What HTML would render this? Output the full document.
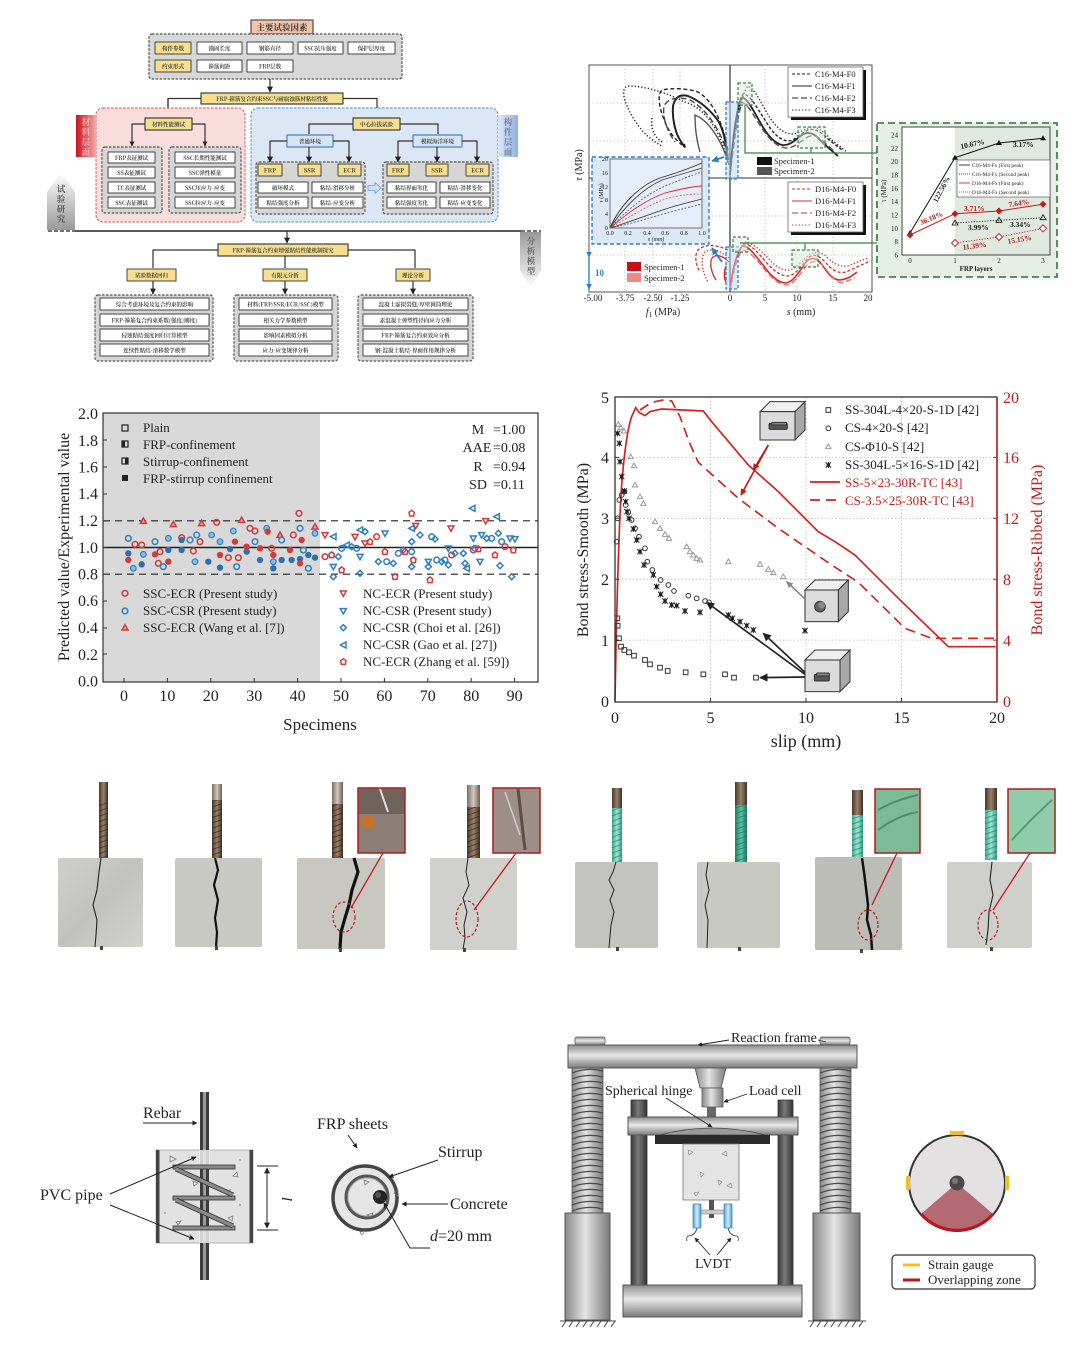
<!DOCTYPE html>
<html><head><meta charset="utf-8">
<style>html,body{margin:0;padding:0;background:#fff;width:1078px;height:1350px;overflow:hidden}svg{display:block}</style>
</head><body>
<svg width="1078" height="1350" viewBox="0 0 1078 1350" xmlns="http://www.w3.org/2000/svg">
<defs>
<marker id="ah" viewBox="0 0 10 10" refX="9" refY="5" markerWidth="5" markerHeight="5" orient="auto"><path d="M0,0 L10,5 L0,10 z" fill="#222"/></marker>
<marker id="ahr" viewBox="0 0 10 10" refX="9" refY="5" markerWidth="4" markerHeight="4" orient="auto"><path d="M0,0 L10,5 L0,10 z" fill="#c41a1a"/></marker>
<marker id="ahg" viewBox="0 0 10 10" refX="9" refY="5" markerWidth="4" markerHeight="4" orient="auto"><path d="M0,0 L10,5 L0,10 z" fill="#888"/></marker>
<marker id="ahb" viewBox="0 0 10 10" refX="9" refY="5" markerWidth="4" markerHeight="4" orient="auto"><path d="M0,0 L10,5 L0,10 z" fill="#2a7fd0"/></marker>
<marker id="ahs" viewBox="0 0 10 10" refX="9" refY="5" markerWidth="6" markerHeight="6" orient="auto-start-reverse"><path d="M0,0 L10,5 L0,10 z" fill="#222"/></marker>
<linearGradient id="redTag" x1="0" x2="1"><stop offset="0" stop-color="#c8141e"/><stop offset="1" stop-color="#f3a9a9"/></linearGradient>
<linearGradient id="blueTag" x1="0" x2="1"><stop offset="0" stop-color="#dfe9f7"/><stop offset="1" stop-color="#8eb0e0"/></linearGradient>
<linearGradient id="grayUp" x1="0" y1="0" x2="0" y2="1"><stop offset="0" stop-color="#fff"/><stop offset="1" stop-color="#9a9a9a"/></linearGradient>
<linearGradient id="grayDn" x1="0" y1="0" x2="0" y2="1"><stop offset="0" stop-color="#9a9a9a"/><stop offset="1" stop-color="#fff"/></linearGradient>
<linearGradient id="metV" x1="0" y1="0" x2="0" y2="1"><stop offset="0" stop-color="#8c8c8c"/><stop offset=".45" stop-color="#e8e8e8"/><stop offset="1" stop-color="#7a7a7a"/></linearGradient>
<linearGradient id="metH" x1="0" y1="0" x2="1" y2="0"><stop offset="0" stop-color="#8a8a8a"/><stop offset=".45" stop-color="#e4e4e4"/><stop offset="1" stop-color="#7a7a7a"/></linearGradient>
<linearGradient id="darkH" x1="0" y1="0" x2="1" y2="0"><stop offset="0" stop-color="#3a3a3a"/><stop offset=".45" stop-color="#7a7a7a"/><stop offset="1" stop-color="#333"/></linearGradient>
<linearGradient id="blueH" x1="0" y1="0" x2="1" y2="0"><stop offset="0" stop-color="#4aa6dc"/><stop offset=".5" stop-color="#d2ecfa"/><stop offset="1" stop-color="#4aa0d8"/></linearGradient>
<linearGradient id="rebarBr" x1="0" y1="0" x2="1" y2="0"><stop offset="0" stop-color="#4a3a2c"/><stop offset=".5" stop-color="#9a8068"/><stop offset="1" stop-color="#3e3024"/></linearGradient>
<linearGradient id="rebarLt" x1="0" y1="0" x2="1" y2="0"><stop offset="0" stop-color="#7a6e62"/><stop offset=".5" stop-color="#d4c8bc"/><stop offset="1" stop-color="#6a5e52"/></linearGradient>
<linearGradient id="teal" x1="0" y1="0" x2="1" y2="0"><stop offset="0" stop-color="#3aa890"/><stop offset=".5" stop-color="#9ee6d2"/><stop offset="1" stop-color="#2e9a82"/></linearGradient>
<linearGradient id="tealD" x1="0" y1="0" x2="1" y2="0"><stop offset="0" stop-color="#1f7e66"/><stop offset=".5" stop-color="#5cc4a8"/><stop offset="1" stop-color="#1c7460"/></linearGradient>
<linearGradient id="conc" x1="0" y1="0" x2="1" y2="1"><stop offset="0" stop-color="#cfcfcb"/><stop offset=".5" stop-color="#c2c2be"/><stop offset="1" stop-color="#d2d2ce"/></linearGradient>
<pattern id="coil" x="572" y="1068" width="31" height="6" patternUnits="userSpaceOnUse"><rect width="31" height="6" fill="url(#metH)"/><path d="M0,5 Q15,-1 31,3" stroke="#4a4a4a" stroke-width="1.3" fill="none"/></pattern>
<pattern id="coil2" x="820" y="1068" width="31" height="6" patternUnits="userSpaceOnUse"><rect width="31" height="6" fill="url(#metH)"/><path d="M0,5 Q15,-1 31,3" stroke="#4a4a4a" stroke-width="1.3" fill="none"/></pattern>
<pattern id="rib" width="12" height="5" patternUnits="userSpaceOnUse" patternTransform="rotate(-20)"><rect width="12" height="5" fill="none"/><line x1="0" y1="1" x2="12" y2="1" stroke="#2a2018" stroke-width="1" opacity=".6"/></pattern>
<pattern id="ribT" width="12" height="5" patternUnits="userSpaceOnUse" patternTransform="rotate(-20)"><line x1="0" y1="1" x2="12" y2="1" stroke="#1e6e5a" stroke-width="1" opacity=".6"/></pattern>
<!-- scatter markers (zoom units) -->
<circle id="rc" r="8.5" fill="none" stroke="#d43a3a" stroke-width="4.5"/>
<circle id="rf" r="9.5" fill="#d43a3a"/>
<circle id="bc" r="8.5" fill="none" stroke="#2f80c2" stroke-width="4.5"/>
<circle id="bf" r="9.5" fill="#2f6fb0"/>
<circle id="bh" r="8.5" fill="#8fb9df" stroke="#2f80c2" stroke-width="3.5"/>
<path id="rt" d="M0,-9 L9,7 L-9,7 Z" fill="#e9a0a0" stroke="#d43a3a" stroke-width="4.5"/>
<path id="rdt" d="M-9,-7 L9,-7 L0,9 Z" fill="none" stroke="#d43a3a" stroke-width="4.5"/>
<path id="bdt" d="M-9,-7 L9,-7 L0,9 Z" fill="none" stroke="#2f80c2" stroke-width="4.5"/>
<path id="bd" d="M0,-9 L9,0 L0,9 L-9,0 Z" fill="none" stroke="#2f80c2" stroke-width="4.5"/>
<path id="bl" d="M-9,0 L8,-9 L8,9 Z" fill="none" stroke="#2f80c2" stroke-width="4.5"/>
<path id="rh" d="M0,-9 L8,-3 L6,8 L-6,8 L-8,-3 Z" fill="none" stroke="#d43a3a" stroke-width="4.5"/>
<!-- slip markers -->
<rect id="sq" x="-7" y="-7" width="14" height="14" fill="none" stroke="#333" stroke-width="3"/>
<circle id="ci" r="7" fill="none" stroke="#333" stroke-width="3"/>
<path id="tr" d="M0,-8 L8,6 L-8,6 Z" fill="none" stroke="#999" stroke-width="3"/>
<g id="st"><rect x="-5" y="-5" width="10" height="10" fill="#222"/><path d="M-8,-8 L8,8 M-8,8 L8,-8 M0,-9 L0,9" stroke="#222" stroke-width="3"/></g>
</defs>

<rect width="1078" height="1350" fill="#fff"/>

<!-- ================= FLOWCHART ================= -->
<g font-family="'Noto Serif CJK SC','Noto Sans CJK SC',serif" text-anchor="middle" fill="#444" font-size="5.5" font-weight="bold" stroke-linejoin="round">
<rect x="251" y="20" width="62" height="14" fill="#f4c4aa" stroke="#555" stroke-width="1.3"/>
<text x="282" y="30.5" font-size="8.5" fill="#333">主要试验因素</text>
<rect x="149" y="34" width="253" height="45" rx="3" fill="#d8d8d8" stroke="#555" stroke-dasharray="2.5,1.5" stroke-width="1.3"/>
<g stroke="#444" stroke-width="1">
<rect x="155" y="42" width="36" height="12" fill="#f7df8e"/>
<rect x="197" y="42" width="45" height="12" fill="#fff"/>
<rect x="247" y="42" width="46" height="12" fill="#fff"/>
<rect x="298" y="42" width="45" height="12" fill="#fff"/>
<rect x="348" y="42" width="47" height="12" fill="#fff"/>
<rect x="155" y="60" width="36" height="12" fill="#f7df8e"/>
<rect x="197" y="60" width="45" height="12" fill="#fff"/>
<rect x="247" y="60" width="46" height="12" fill="#fff"/>
</g>
<text x="173" y="50.5">构件参数</text><text x="219.5" y="50.5">锚固长度</text><text x="270" y="50.5">钢筋直径</text><text x="320.5" y="50.5">SSC抗压强度</text><text x="371.5" y="50.5">保护层厚度</text>
<text x="173" y="68.5">约束形式</text><text x="219.5" y="68.5">箍筋间距</text><text x="270" y="68.5">FRP层数</text>
<line x1="270" y1="79" x2="270" y2="92" stroke="#333" stroke-width="1.2" marker-end="url(#ah)"/>
<rect x="201" y="93" width="142" height="11" fill="#f7df8e" stroke="#444" stroke-width="1.2"/>
<text x="272" y="100.8">FRP-箍筋复合约束SSC与耐腐蚀筋材粘结性能</text>
<path d="M201,98.5 H168 V117 M343,98.5 H377 V117" fill="none" stroke="#333" stroke-width="1.2" marker-end="url(#ah)"/>
<path d="M168,98.5 V117" stroke="#333" stroke-width="1.2" marker-end="url(#ah)"/>
<rect x="96" y="108" width="149" height="114" rx="7" fill="#f9dcdc" stroke="#e07070" stroke-dasharray="2.5,1.5" stroke-width="1.2"/>
<rect x="251" y="108" width="247" height="114" rx="7" fill="#dce7f5" stroke="#6a9fd8" stroke-dasharray="2.5,1.5" stroke-width="1.2"/>
<rect x="76" y="115" width="20" height="42" fill="url(#redTag)"/>
<g font-size="8.5" fill="#f4b4b4"><text x="86" y="125">材</text><text x="86" y="135">料</text><text x="86" y="145">层</text><text x="86" y="155">面</text></g>
<rect x="498" y="115" width="20" height="42" fill="url(#blueTag)"/>
<g font-size="8.5" fill="#6b7f9e"><text x="508" y="125">构</text><text x="508" y="135">件</text><text x="508" y="145">层</text><text x="508" y="155">面</text></g>
<rect x="145" y="118" width="47" height="12" fill="#f7df8e" stroke="#444" stroke-width="1.2"/>
<text x="168.5" y="126.5">材料性能测试</text>
<path d="M145,124 H132 V146 M192,124 H205 V146" fill="none" stroke="#333" stroke-width="1.2"/>
<path d="M132,140 V146" stroke="#333" marker-end="url(#ah)"/><path d="M205,140 V146" stroke="#333" marker-end="url(#ah)"/>
<rect x="102" y="147" width="60" height="66" rx="3" fill="#d6d6d6" stroke="#555" stroke-dasharray="2.5,1.5" stroke-width="1.2"/>
<rect x="169" y="147" width="72" height="66" rx="3" fill="#d6d6d6" stroke="#555" stroke-dasharray="2.5,1.5" stroke-width="1.2"/>
<g stroke="#444" stroke-width="1" fill="#fff">
<rect x="108" y="152" width="47" height="11"/><rect x="108" y="167" width="47" height="11"/><rect x="108" y="182" width="47" height="11"/><rect x="108" y="197" width="47" height="11"/>
<rect x="175" y="152" width="60" height="11"/><rect x="175" y="167" width="60" height="11"/><rect x="175" y="182" width="60" height="11"/><rect x="175" y="197" width="60" height="11"/>
</g>
<text x="131.5" y="159.8">FRP表征测试</text><text x="131.5" y="174.8">SS表征测试</text><text x="131.5" y="189.8">TC表征测试</text><text x="131.5" y="204.8">SSC表征测试</text>
<text x="205" y="159.8">SSC长期性能测试</text><text x="205" y="174.8">SSC弹性模量</text><text x="205" y="189.8">SSC压应力-应变</text><text x="205" y="204.8">SSC拉应力-应变</text>
<rect x="353" y="118" width="47" height="12" fill="#f7df8e" stroke="#444" stroke-width="1.2"/>
<text x="376.5" y="126.5">中心拉拔试验</text>
<path d="M353,124 H309 V134 M400,124 H438 V134" fill="none" stroke="#333" stroke-width="1.2"/>
<rect x="287" y="135" width="46" height="12" fill="#d6e4f5" stroke="#5080c0" stroke-width="1.2"/>
<text x="310" y="143.5">普通环境</text>
<rect x="413" y="135" width="49" height="12" fill="#d6e4f5" stroke="#5080c0" stroke-width="1.2"/>
<text x="437.5" y="143.5">模拟海洋环境</text>
<path d="M287,141 H270 V162 M333,141 H349 V162 M413,141 H398 V162 M462,141 H477 V162" fill="none" stroke="#333" stroke-width="1.2"/>
<g stroke="#333" stroke-width="1.2"><path d="M270,156 V162" marker-end="url(#ah)"/><path d="M309,147 V162" marker-end="url(#ah)"/><path d="M349,156 V162" marker-end="url(#ah)"/><path d="M398,156 V162" marker-end="url(#ah)"/><path d="M437,147 V162" marker-end="url(#ah)"/><path d="M477,156 V162" marker-end="url(#ah)"/></g>
<rect x="256" y="162" width="109" height="52" rx="3" fill="#d6d6d6" stroke="#555" stroke-dasharray="2.5,1.5" stroke-width="1.2"/>
<rect x="383" y="162" width="110" height="52" rx="3" fill="#d6d6d6" stroke="#555" stroke-dasharray="2.5,1.5" stroke-width="1.2"/>
<g stroke="#444" stroke-width="1">
<rect x="258" y="164" width="24" height="12" fill="#f7df8e"/><rect x="298" y="164" width="23" height="12" fill="#f7df8e"/><rect x="338" y="164" width="23" height="12" fill="#f7df8e"/>
<rect x="387" y="164" width="22" height="12" fill="#f7df8e"/><rect x="426" y="164" width="22" height="12" fill="#f7df8e"/><rect x="466" y="164" width="23" height="12" fill="#f7df8e"/>
<rect x="258" y="182" width="50" height="11" fill="#fff"/><rect x="312" y="182" width="51" height="11" fill="#fff"/><rect x="258" y="197" width="50" height="11" fill="#fff"/><rect x="312" y="197" width="51" height="11" fill="#fff"/>
<rect x="387" y="182" width="49" height="11" fill="#fff"/><rect x="440" y="182" width="50" height="11" fill="#fff"/><rect x="387" y="197" width="49" height="11" fill="#fff"/><rect x="440" y="197" width="50" height="11" fill="#fff"/>
</g>
<g font-size="6"><text x="270" y="172.5">FRP</text><text x="309.5" y="172.5">SSR</text><text x="349.5" y="172.5">ECR</text><text x="398" y="172.5">FRP</text><text x="437" y="172.5">SSR</text><text x="477.5" y="172.5">ECR</text></g>
<text x="283" y="189.8">破坏模式</text><text x="337.5" y="189.8">粘结-滑移分析</text><text x="283" y="204.8">粘结强度分析</text><text x="337.5" y="204.8">粘结-应变分析</text>
<text x="411.5" y="189.8">粘结界面劣化</text><text x="465" y="189.8">粘结-滑移变化</text><text x="411.5" y="204.8">粘结强度劣化</text><text x="465" y="204.8">粘结-应变变化</text>
<path d="M368,185.5 H375 V182.5 L381,188 L375,193.5 V190.5 H368 Z" fill="#cfe0f5" stroke="#6a9fd8" stroke-width="0.8"/>
<!-- divider -->
<line x1="75" y1="231" x2="521" y2="231" stroke="#222" stroke-width="1.6"/>
<line x1="48" y1="231" x2="75" y2="231" stroke="#444" stroke-width="1.6" stroke-dasharray="4,2"/>
<line x1="521" y1="231" x2="541" y2="231" stroke="#444" stroke-width="1.6" stroke-dasharray="4,2"/>
<polygon points="47,230 75,230 75,192 61,172 47,192" fill="url(#grayUp)"/>
<g font-size="8.5" fill="#555"><text x="61" y="192">试</text><text x="61" y="202">验</text><text x="61" y="212">研</text><text x="61" y="222">究</text></g>
<polygon points="520,232 541,232 541,270 531,288 520,270" fill="url(#grayDn)"/>
<g font-size="8.5" fill="#666"><text x="531" y="244">分</text><text x="531" y="254">析</text><text x="531" y="264">模</text><text x="531" y="274">型</text></g>
<path d="M287,231 V243" stroke="#333" stroke-width="1.2" marker-end="url(#ah)"/>
<rect x="218" y="244" width="130" height="12" fill="#f7df8e" stroke="#444" stroke-width="1.2"/>
<text x="283" y="252.3">FRP-箍筋复合约束增强粘结性能机制探究</text>
<path d="M218,250 H153 V268 M348,250 H415 V268 M285,256 V268" fill="none" stroke="#333" stroke-width="1.2"/>
<g stroke="#444" stroke-width="1">
<rect x="127" y="269" width="49" height="12" fill="#f7df8e"/><rect x="263" y="269" width="44" height="12" fill="#f7df8e"/><rect x="396" y="269" width="34" height="12" fill="#f7df8e"/>
</g>
<text x="151.5" y="277.5">试验数据回归</text><text x="285" y="277.5">有限元分析</text><text x="413" y="277.5">理论分析</text>
<g stroke="#333" stroke-width="1.2"><path d="M153,281 V294" marker-end="url(#ah)"/><path d="M285,281 V294" marker-end="url(#ah)"/><path d="M413,281 V294" marker-end="url(#ah)"/></g>
<rect x="95" y="295" width="118" height="66" rx="3" fill="#d6d6d6" stroke="#555" stroke-dasharray="2.5,1.5" stroke-width="1.2"/>
<rect x="234" y="295" width="104" height="66" rx="3" fill="#d6d6d6" stroke="#555" stroke-dasharray="2.5,1.5" stroke-width="1.2"/>
<rect x="358" y="295" width="115" height="66" rx="3" fill="#d6d6d6" stroke="#555" stroke-dasharray="2.5,1.5" stroke-width="1.2"/>
<g stroke="#444" stroke-width="1" fill="#fff">
<rect x="100" y="298" width="109" height="12"/><rect x="100" y="314" width="109" height="12"/><rect x="100" y="329" width="109" height="12"/><rect x="100" y="344" width="109" height="12"/>
<rect x="239" y="298" width="93" height="12"/><rect x="239" y="314" width="93" height="12"/><rect x="239" y="329" width="93" height="12"/><rect x="239" y="344" width="93" height="12"/>
<rect x="363" y="298" width="105" height="12"/><rect x="363" y="314" width="105" height="12"/><rect x="363" y="329" width="105" height="12"/><rect x="363" y="344" width="105" height="12"/>
</g>
<text x="154.5" y="306.3">综合考虑环境及复合约束的影响</text><text x="154.5" y="322.3">FRP-箍筋复合约束系数(强度/刚度)</text><text x="154.5" y="337.3">侵蚀粘结强度回归计算模型</text><text x="154.5" y="352.3">连续性粘结-滑移数学模型</text>
<text x="285.5" y="306.3">材料(FRP/SSR/ECR/SSC)模型</text><text x="285.5" y="322.3">相关力学参数模型</text><text x="285.5" y="337.3">影响因素模拟分析</text><text x="285.5" y="352.3">应力-应变规律分析</text>
<text x="415.5" y="306.3">混凝土虚拟裂缝/厚壁圆筒理论</text><text x="415.5" y="322.3">素混凝土弹塑性径向应力分析</text><text x="415.5" y="337.3">FRP-箍筋复合约束效应分析</text><text x="415.5" y="352.3">钢-混凝土粘结-界面作用规律分析</text>
</g>

<!-- ================= TOP RIGHT CHART ================= -->
<g font-family="'Liberation Serif',serif" fill="#222">
<rect x="589" y="65" width="283" height="227" fill="#fff" stroke="#555" stroke-width="1"/>
<g stroke="#bbb" stroke-width=".7" stroke-dasharray="1.5,2">
<line x1="589" y1="103" x2="872" y2="103"/><line x1="589" y1="141" x2="872" y2="141"/><line x1="589" y1="216" x2="872" y2="216"/><line x1="589" y1="255" x2="872" y2="255"/>
<line x1="765" y1="65" x2="765" y2="292"/><line x1="797" y1="65" x2="797" y2="292"/><line x1="833" y1="65" x2="833" y2="292"/>
<line x1="625" y1="65" x2="625" y2="292"/><line x1="653" y1="65" x2="653" y2="292"/><line x1="680" y1="65" x2="680" y2="292"/>
</g>
<line x1="589" y1="178" x2="872" y2="178" stroke="#333" stroke-width="1"/>
<line x1="730" y1="65" x2="730" y2="292" stroke="#222" stroke-width="1.1"/>
<!-- black curves -->
<g fill="none" stroke="#222" stroke-width="1.4">
<path d="M730,175 C732,150 735,115 741,98 C746,96 752,108 760,122 C767,135 774,143 782,145 C790,146 795,140 802,135 C808,131 814,133 820,140 C826,146 832,151 838,156" stroke-width="1.8"/>
<path d="M730,175 C732,145 736,110 743,94 C750,94 757,108 765,120 C772,132 779,140 788,141 C795,141 800,134 808,130 C815,128 821,132 828,139 L842,150" stroke-dasharray="3,2"/>
<path d="M730,175 C733,150 737,118 742,102 C748,104 755,118 763,130 C770,140 777,147 786,148 C794,148 800,142 806,138 C812,134 818,136 824,142 L836,153" stroke-dasharray="6,3" stroke="#555"/>
<path d="M730,175 C733,140 738,100 748,86 C756,90 762,105 770,118 C777,128 784,134 793,134 C800,133 806,128 812,127 C820,127 826,135 834,142 L847,152" stroke-dasharray="1.3,2"/>
<path d="M728,160 C726,140 722,125 716,118 C708,108 698,100 688,96 C680,94 675,97 673,106 C672,118 675,132 680,140 C684,146 686,150 684,144" stroke-width="2"/>
<path d="M729,165 C722,140 708,120 695,115 C695,128 697,142 700,152" stroke="#555"/>
<path d="M728,150 C722,120 712,100 698,92 C685,88 672,88 662,90 C657,94 659,108 665,122 C670,134 676,140 682,145" stroke-dasharray="4,2.5"/>
<path d="M728,155 C720,128 705,108 690,100 C678,96 668,98 664,106 C662,118 668,132 675,142" stroke-dasharray="6,3" stroke="#444"/>
<path d="M728,162 C720,130 705,108 685,102 C665,92 645,86 628,86 C620,88 624,102 632,116 C640,130 650,140 662,146" stroke-dasharray="1.3,2"/>
<path d="M652,118 C650,128 655,138 662,142" stroke-dasharray="1.3,2"/>
</g>
<!-- red curves -->
<g fill="none" stroke="#d42a2a" stroke-width="1.3">
<path d="M730,292 C732,270 736,255 742,246 C748,245 755,255 763,265 C770,275 778,283 786,283 C794,282 800,270 806,262 C812,256 818,258 823,266 C828,274 833,280 840,280 C848,279 852,276 857,272" stroke-width="1.6"/>
<path d="M730,292 C732,268 737,252 744,244 C751,244 758,253 766,262 C773,270 780,276 788,276 C796,275 802,265 808,258 C814,253 820,256 826,263 C832,270 838,274 846,272 L868,262" stroke-dasharray="3,2"/>
<path d="M730,292 C733,272 737,258 742,250 C749,250 757,260 765,270 C772,278 779,285 787,285 C795,284 801,272 807,265 C813,259 819,261 825,268 C831,276 836,282 842,283 L855,278" stroke-dasharray="6,3" stroke="#e06a6a"/>
<path d="M730,292 C733,265 738,250 745,242 C752,242 760,250 768,258 C775,266 782,271 790,270 C797,268 803,260 809,255 C815,251 822,252 828,258 C834,264 840,267 848,266 L868,258" stroke-dasharray="1.3,2"/>
<path d="M729,258 C720,250 712,248 705,252 C700,258 702,272 708,282" stroke-dasharray="1.3,2"/>
<path d="M729,262 C722,255 716,254 712,258 C709,264 712,274 716,280"/>
<path d="M728,250 C715,244 705,244 698,250 C694,256 696,266 700,272" stroke-dasharray="3,2"/>
<path d="M726,266 C724,272 724,278 726,282" stroke-width="1.6"/>
</g>
<!-- blue inset -->
<rect x="592" y="157" width="117" height="87" fill="#dce8f6" stroke="#2a7fd0" stroke-width="1.4" stroke-dasharray="4,2.5"/>
<rect x="610" y="159" width="92" height="69" fill="#e4edf8" stroke="#555" stroke-width=".8"/>
<g fill="none" stroke-width=".9">
<path d="M610,228 C620,205 640,185 660,178 C680,172 695,166 702,163" stroke="#333"/>
<path d="M610,228 C622,210 640,190 662,180 C682,174 695,170 702,168" stroke="#444"/>
<path d="M610,228 C625,212 645,195 665,186 C685,178 695,174 702,172" stroke="#666" stroke-dasharray="2,1.5"/>
<path d="M610,228 C625,215 645,200 665,193 C685,188 695,186 702,186" stroke="#d42a2a"/>
<path d="M610,228 C628,218 648,205 668,198 C686,194 696,194 702,194" stroke="#e67070" stroke-dasharray="2,1.5"/>
<path d="M610,228 C630,222 655,212 675,206 C690,202 698,200 702,199" stroke="#333"/>
<path d="M610,228 C632,224 658,215 678,210 C690,207 698,205 702,204" stroke="#666" stroke-dasharray="2,1.5"/>
</g>
<g font-size="6" text-anchor="end"><text x="608" y="161">20</text><text x="608" y="175">16</text><text x="608" y="189">12</text><text x="608" y="202">8</text><text x="608" y="216">4</text><text x="608" y="230">0</text></g>
<g font-size="6" text-anchor="middle"><text x="610" y="235">0.0</text><text x="628" y="235">0.2</text><text x="647" y="235">0.4</text><text x="665" y="235">0.6</text><text x="684" y="235">0.8</text><text x="702" y="235">1.0</text></g>
<text x="656" y="241" font-size="6" text-anchor="middle" font-style="italic">s (mm)</text>
<text transform="translate(603,193) rotate(-90)" font-size="6" text-anchor="middle">τ (MPa)</text>
<rect x="726" y="102" width="12" height="77" fill="#bcd6f0" fill-opacity=".5" stroke="#2a7fd0" stroke-width="1.3" stroke-dasharray="3,2"/>
<rect x="726" y="247" width="12" height="42" fill="#bcd6f0" fill-opacity=".5" stroke="#2a7fd0" stroke-width="1.3" stroke-dasharray="3,2"/>
<path d="M724,157 L712,161" stroke="#2a7fd0" stroke-width="1.8" marker-end="url(#ahb)"/>
<path d="M722,262 L712,248" stroke="#2a7fd0" stroke-width="1.8" marker-end="url(#ahb)"/>
<path d="M589,257 V289" stroke="#2a7fd0" stroke-width="1.4" marker-start="url(#ahb)" marker-end="url(#ahb)"/>
<text x="595" y="276" font-size="9" font-weight="bold" fill="#2a7fd0">10</text>
<!-- green -->
<g fill="#dfe9df" fill-opacity=".5" stroke="#2e8b3e" stroke-width="1.2" stroke-dasharray="3,2">
<rect x="738" y="83" width="14" height="22"/><rect x="798" y="127" width="27" height="21"/><rect x="733" y="237" width="15" height="15"/><rect x="792" y="250" width="26" height="17"/>
</g>
<path d="M745,105 V153 H877 M811,148 V153 M740,243 H877 M805,243 V250" fill="none" stroke="#2e8b3e" stroke-width="1.2"/>
<!-- legends -->
<rect x="791" y="70" width="75" height="50" fill="#111"/>
<rect x="788" y="67" width="75" height="50" fill="#fff" stroke="#666" stroke-width=".8"/>
<g stroke="#222" stroke-width="1.1"><line x1="792" y1="74" x2="812" y2="74" stroke-dasharray="3,2"/><line x1="792" y1="86" x2="812" y2="86"/><line x1="792" y1="98" x2="812" y2="98" stroke-dasharray="6,3"/><line x1="792" y1="110" x2="812" y2="110" stroke-dasharray="1.3,2"/></g>
<g font-size="8.5"><text x="815" y="77">C16-M4-F0</text><text x="815" y="89">C16-M4-F1</text><text x="815" y="101">C16-M4-F2</text><text x="815" y="113">C16-M4-F3</text></g>
<rect x="757" y="157" width="15" height="8" fill="#111"/><rect x="757" y="167" width="15" height="8" fill="#555"/>
<g font-size="8.5"><text x="774" y="164">Specimen-1</text><text x="774" y="174">Specimen-2</text></g>
<rect x="791" y="185" width="75" height="50" fill="#111"/>
<rect x="788" y="182" width="75" height="50" fill="#fff" stroke="#666" stroke-width=".8"/>
<g stroke="#d42a2a" stroke-width="1.1"><line x1="792" y1="189" x2="812" y2="189" stroke-dasharray="3,2"/><line x1="792" y1="201" x2="812" y2="201"/><line x1="792" y1="213" x2="812" y2="213" stroke-dasharray="6,3"/><line x1="792" y1="225" x2="812" y2="225" stroke-dasharray="1.3,2"/></g>
<g font-size="8.5"><text x="815" y="192">D16-M4-F0</text><text x="815" y="204">D16-M4-F1</text><text x="815" y="216">D16-M4-F2</text><text x="815" y="228">D16-M4-F3</text></g>
<rect x="627" y="262" width="14" height="9" fill="#c8101a"/><rect x="627" y="273" width="14" height="9" fill="#f08a8a"/>
<g font-size="8.5"><text x="644" y="270">Specimen-1</text><text x="644" y="281">Specimen-2</text></g>
<!-- axes labels -->
<g font-size="9" text-anchor="middle"><text x="593" y="301">-5.00</text><text x="625" y="301">-3.75</text><text x="653" y="301">-2.50</text><text x="680" y="301">-1.25</text><text x="730" y="301">0</text><text x="765" y="301">5</text><text x="797" y="301">10</text><text x="833" y="301">15</text><text x="868" y="301">20</text></g>
<text x="663" y="315" font-size="10" text-anchor="middle"><tspan font-style="italic">f</tspan><tspan font-size="7" dy="2">1</tspan><tspan dy="-2"> (MPa)</tspan></text>
<text x="801" y="315" font-size="10" text-anchor="middle"><tspan font-style="italic">s</tspan> (mm)</text>
<text transform="translate(582,165) rotate(-90)" font-size="10" text-anchor="middle"><tspan font-style="italic">τ</tspan> (MPa)</text>
<!-- right panel -->
<rect x="877" y="123" width="180" height="154" fill="#e6eee6" stroke="#3a8a45" stroke-width="1.8" stroke-dasharray="7,4"/>
<rect x="902" y="127" width="148" height="128" fill="#fff"/>
<rect x="955" y="127" width="95" height="128" fill="#e0e9e0"/>
<rect x="902" y="127" width="148" height="128" fill="none" stroke="#333" stroke-width=".9"/>
<g font-size="7" text-anchor="end"><text x="898" y="137.5">24</text><text x="898" y="151">22</text><text x="898" y="164">20</text><text x="898" y="177.5">18</text><text x="898" y="191">16</text><text x="898" y="204">14</text><text x="898" y="217.5">12</text><text x="898" y="231">10</text><text x="898" y="244">8</text><text x="898" y="257.5">6</text></g>
<g font-size="7" text-anchor="middle"><text x="910" y="263">0</text><text x="955" y="263">1</text><text x="999" y="263">2</text><text x="1043" y="263">3</text></g>
<text x="976" y="271" font-size="7" font-weight="bold" text-anchor="middle">FRP layers</text>
<text transform="translate(886,191) rotate(-90)" font-size="7" text-anchor="middle">τ (MPa)</text>
<polyline points="910,233 955,157.7 999,143 1043,138.3" fill="none" stroke="#111" stroke-width="1"/>
<g fill="#111"><path d="M910,230 l3,5 h-6z"/><path d="M955,154.7 l3,5 h-6z"/><path d="M999,140 l3,5 h-6z"/><path d="M1043,135.3 l3,5 h-6z"/></g>
<polyline points="955,223 999,220.3 1043,217.7" fill="none" stroke="#111" stroke-width=".9" stroke-dasharray="1.2,1.5"/>
<g fill="none" stroke="#111" stroke-width=".8"><path d="M955,220 l3,5 h-6z"/><path d="M999,217.3 l3,5 h-6z"/><path d="M1043,214.7 l3,5 h-6z"/></g>
<polyline points="910,235 955,213.7 999,211 1043,204.3" fill="none" stroke="#c41a1a" stroke-width="1"/>
<g fill="#c41a1a"><path d="M910,231.5 l3.5,3.5 -3.5,3.5 -3.5,-3.5z"/><path d="M955,210.2 l3.5,3.5 -3.5,3.5 -3.5,-3.5z"/><path d="M999,207.5 l3.5,3.5 -3.5,3.5 -3.5,-3.5z"/><path d="M1043,200.8 l3.5,3.5 -3.5,3.5 -3.5,-3.5z"/></g>
<polyline points="955,243 999,237 1043,228.3" fill="none" stroke="#c41a1a" stroke-width=".9" stroke-dasharray="1.2,1.5"/>
<g fill="#fff" stroke="#c41a1a" stroke-width=".9"><path d="M955,239.5 l3.5,3.5 -3.5,3.5 -3.5,-3.5z"/><path d="M999,233.5 l3.5,3.5 -3.5,3.5 -3.5,-3.5z"/><path d="M1043,224.8 l3.5,3.5 -3.5,3.5 -3.5,-3.5z"/></g>
<rect x="957" y="160" width="93" height="37" fill="#fff" stroke="#444" stroke-width=".6"/>
<g font-size="5.3"><text x="972" y="167">C16-M4-Fx (First peak)</text><text x="972" y="176">C16-M4-Fx (Second peak)</text><text x="972" y="185">D16-M4-Fx (First peak)</text><text x="972" y="194">D16-M4-Fx (Second peak)</text></g>
<g stroke-width=".8"><line x1="959" y1="165" x2="970" y2="165" stroke="#111"/><line x1="959" y1="174" x2="970" y2="174" stroke="#111" stroke-dasharray="1,1"/><line x1="959" y1="183" x2="970" y2="183" stroke="#c41a1a"/><line x1="959" y1="192" x2="970" y2="192" stroke="#c41a1a" stroke-dasharray="1,1"/></g>
<g font-size="7.5" font-weight="bold">
<text transform="translate(961,149) rotate(-12)">10.67%</text>
<text x="1013" y="147">3.17%</text>
<text transform="translate(937,203) rotate(-62)">122.56%</text>
<text transform="translate(921,225) rotate(-22)" fill="#c41a1a">36.18%</text>
<text x="964" y="211" fill="#c41a1a">3.71%</text>
<text transform="translate(1009,207) rotate(-8)" fill="#c41a1a">7.64%</text>
<text x="968" y="230">3.99%</text>
<text x="1010" y="227">3.34%</text>
<text transform="translate(963,250) rotate(-8)" fill="#c41a1a">11.39%</text>
<text transform="translate(1008,244) rotate(-10)" fill="#c41a1a">15.15%</text>
</g>
</g>

<!-- ================= SCATTER PLOT ================= -->
<g font-family="'Liberation Serif',serif" fill="#222">
<rect x="103" y="413" width="217" height="269" fill="#d9d9d9"/>
<line x1="103" y1="520.8" x2="538" y2="520.8" stroke="#222" stroke-width="1.2" stroke-dasharray="7,5"/>
<line x1="103" y1="574.2" x2="538" y2="574.2" stroke="#222" stroke-width="1.2" stroke-dasharray="7,5"/>
<line x1="103" y1="547.5" x2="538" y2="547.5" stroke="#222" stroke-width="1.4"/>
<g transform="translate(45,395) scale(0.33333)">
<use href="#bc" x="250" y="430"/><use href="#bf" x="250" y="475"/><use href="#rf" x="250" y="495"/><use href="#bh" x="265" y="520"/><use href="#rc" x="270" y="448"/><use href="#rc" x="290" y="450"/><use href="#bf" x="290" y="508"/><use href="#rt" x="295" y="378"/><use href="#bh" x="295" y="478"/>
<use href="#bc" x="330" y="440"/><use href="#rf" x="330" y="478"/><use href="#rc" x="340" y="505"/><use href="#rc" x="345" y="470"/><use href="#bc" x="355" y="515"/><use href="#bh" x="370" y="430"/><use href="#bf" x="370" y="465"/><use href="#rf" x="370" y="500"/><use href="#rt" x="385" y="388"/><use href="#rc" x="410" y="428"/><use href="#bf" x="410" y="465"/><use href="#bf" x="410" y="435"/>
<use href="#bc" x="435" y="435"/><use href="#rc" x="445" y="468"/><use href="#bh" x="450" y="500"/><use href="#bc" x="455" y="420"/><use href="#rc" x="465" y="440"/><use href="#rt" x="470" y="385"/><use href="#bf" x="490" y="500"/><use href="#bh" x="500" y="420"/><use href="#rc" x="515" y="382"/><use href="#bh" x="525" y="440"/><use href="#rf" x="525" y="480"/><use href="#bf" x="525" y="518"/><use href="#rc" x="550" y="488"/><use href="#bf" x="555" y="462"/><use href="#bh" x="565" y="408"/><use href="#rf" x="570" y="440"/><use href="#bc" x="575" y="515"/><use href="#rc" x="580" y="488"/><use href="#rt" x="590" y="375"/><use href="#bf" x="605" y="470"/><use href="#rf" x="605" y="455"/><use href="#rc" x="615" y="400"/><use href="#rc" x="630" y="408"/><use href="#bc" x="630" y="440"/><use href="#bf" x="645" y="495"/><use href="#rf" x="645" y="460"/>
<use href="#bh" x="665" y="400"/><use href="#rf" x="668" y="410"/><use href="#rc" x="680" y="460"/><use href="#rf" x="685" y="480"/><use href="#bf" x="685" y="520"/><use href="#bh" x="685" y="500"/><use href="#rt" x="705" y="420"/><use href="#bc" x="710" y="435"/><use href="#bf" x="710" y="495"/><use href="#rf" x="735" y="465"/><use href="#rc" x="745" y="420"/><use href="#bf" x="740" y="495"/><use href="#rc" x="762" y="355"/><use href="#bc" x="765" y="400"/><use href="#bf" x="765" y="492"/><use href="#rf" x="765" y="505"/><use href="#rf" x="770" y="435"/><use href="#bc" x="775" y="465"/><use href="#bc" x="790" y="520"/><use href="#bf" x="790" y="480"/><use href="#rt" x="810" y="395"/><use href="#bh" x="810" y="415"/><use href="#bf" x="810" y="488"/>
<use href="#rdt" x="840" y="420"/><use href="#rc" x="840" y="485"/><use href="#bl" x="865" y="425"/><use href="#rh" x="860" y="480"/><use href="#bdt" x="865" y="515"/><use href="#bd" x="865" y="545"/><use href="#bd" x="880" y="485"/><use href="#bc" x="890" y="460"/><use href="#rh" x="890" y="525"/><use href="#bl" x="905" y="450"/><use href="#bd" x="920" y="455"/><use href="#rdt" x="930" y="425"/><use href="#bc" x="935" y="460"/><use href="#bdt" x="945" y="485"/><use href="#bd" x="945" y="535"/><use href="#bl" x="945" y="405"/><use href="#bd" x="960" y="410"/><use href="#rdt" x="960" y="445"/><use href="#rh" x="975" y="440"/><use href="#rc" x="995" y="425"/><use href="#bd" x="1000" y="500"/><use href="#bdt" x="1020" y="415"/><use href="#rh" x="1020" y="470"/><use href="#bc" x="1025" y="500"/><use href="#bd" x="1045" y="505"/><use href="#rh" x="1050" y="545"/><use href="#bc" x="1060" y="475"/><use href="#bd" x="1075" y="465"/><use href="#rh" x="1080" y="470"/><use href="#rh" x="1100" y="355"/><use href="#bl" x="1100" y="400"/><use href="#bd" x="1100" y="440"/><use href="#bc" x="1100" y="470"/><use href="#rdt" x="1112" y="392"/><use href="#rh" x="1105" y="495"/><use href="#bd" x="1100" y="515"/><use href="#bd" x="1125" y="420"/><use href="#bdt" x="1150" y="500"/><use href="#bd" x="1150" y="515"/><use href="#rh" x="1155" y="555"/><use href="#bc" x="1160" y="425"/><use href="#bd" x="1170" y="432"/><use href="#bc" x="1175" y="495"/><use href="#bd" x="1190" y="500"/><use href="#bc" x="1200" y="495"/><use href="#bd" x="1210" y="510"/><use href="#bdt" x="1210" y="460"/><use href="#rdt" x="1218" y="400"/><use href="#rc" x="1220" y="480"/><use href="#bd" x="1230" y="475"/><use href="#bd" x="1255" y="475"/><use href="#bd" x="1260" y="505"/><use href="#bl" x="1265" y="520"/><use href="#bl" x="1282" y="340"/><use href="#bdt" x="1285" y="430"/><use href="#rc" x="1285" y="465"/><use href="#bc" x="1290" y="460"/><use href="#rh" x="1300" y="462"/><use href="#bdt" x="1305" y="500"/><use href="#bdt" x="1310" y="420"/><use href="#rdt" x="1322" y="378"/><use href="#bd" x="1325" y="430"/><use href="#bc" x="1340" y="430"/><use href="#bl" x="1355" y="365"/><use href="#rh" x="1350" y="480"/><use href="#bd" x="1360" y="415"/><use href="#bd" x="1365" y="512"/><use href="#bc" x="1370" y="440"/><use href="#rc" x="1380" y="455"/><use href="#bdt" x="1395" y="430"/><use href="#bd" x="1400" y="545"/><use href="#rh" x="1405" y="465"/><use href="#bdt" x="1410" y="432"/>
<!-- bottom legends -->
<use href="#rc" x="240" y="595"/><use href="#bc" x="240" y="648"/><use href="#rt" x="240" y="698"/>
<use href="#rdt" x="895" y="595"/><use href="#bdt" x="895" y="648"/><use href="#bd" x="895" y="698"/><use href="#bl" x="895" y="750"/><use href="#rh" x="895" y="800"/>
</g>
<rect x="103" y="413" width="435" height="269" fill="none" stroke="#333" stroke-width="1.2"/>
<g stroke="#333" stroke-width="1">
<path d="M103,440 h4 M103,467 h4 M103,494 h4 M103,521 h4 M103,547.5 h4 M103,574 h4 M103,601 h4 M103,628 h4 M103,654 h4"/>
<path d="M124,682 v-4 M167.4,682 v-4 M210.8,682 v-4 M254.2,682 v-4 M297.6,682 v-4 M341,682 v-4 M384.4,682 v-4 M427.8,682 v-4 M471.2,682 v-4 M514.6,682 v-4"/>
</g>
<g font-size="16" text-anchor="end"><text x="98" y="419">2.0</text><text x="98" y="446">1.8</text><text x="98" y="472.5">1.6</text><text x="98" y="499">1.4</text><text x="98" y="526">1.2</text><text x="98" y="553">1.0</text><text x="98" y="579.5">0.8</text><text x="98" y="606">0.6</text><text x="98" y="633">0.4</text><text x="98" y="660">0.2</text><text x="98" y="686.5">0.0</text></g>
<g font-size="16" text-anchor="middle"><text x="124" y="701">0</text><text x="167.4" y="701">10</text><text x="210.8" y="701">20</text><text x="254.2" y="701">30</text><text x="297.6" y="701">40</text><text x="341" y="701">50</text><text x="384.4" y="701">60</text><text x="427.8" y="701">70</text><text x="471.2" y="701">80</text><text x="514.6" y="701">90</text></g>
<text x="320" y="730" font-size="17" text-anchor="middle">Specimens</text>
<text transform="translate(69,547) rotate(-90)" font-size="16" text-anchor="middle">Predicted value/Experimental value</text>
<!-- top-left legend -->
<rect x="122" y="425" width="6" height="6" fill="none" stroke="#222" stroke-width="1.2"/>
<rect x="122" y="441" width="6" height="6" fill="none" stroke="#222" stroke-width="1.2"/><rect x="122" y="441" width="3" height="6" fill="#222"/>
<rect x="122" y="458" width="6" height="6" fill="none" stroke="#222" stroke-width="1.2"/><rect x="125" y="458" width="3" height="6" fill="#222"/>
<rect x="122" y="475" width="6" height="6" fill="#222"/>
<g font-size="13"><text x="143" y="432">Plain</text><text x="143" y="449">FRP-confinement</text><text x="143" y="466">Stirrup-confinement</text><text x="143" y="483">FRP-stirrup confinement</text></g>
<g font-size="14"><text x="478" y="434" text-anchor="middle">M</text><text x="477" y="452" text-anchor="middle">AAE</text><text x="478" y="471" text-anchor="middle">R</text><text x="478" y="489" text-anchor="middle">SD</text>
<text x="493" y="434">=1.00</text><text x="493" y="452">=0.08</text><text x="493" y="471">=0.94</text><text x="493" y="489">=0.11</text></g>
<g font-size="13"><text x="143" y="598">SSC-ECR (Present study)</text><text x="143" y="615">SSC-CSR (Present study)</text><text x="143" y="632">SSC-ECR (Wang et al. [7])</text>
<text x="363" y="598">NC-ECR (Present study)</text><text x="363" y="615">NC-CSR (Present study)</text><text x="363" y="632">NC-CSR (Choi et al. [26])</text><text x="363" y="649">NC-CSR (Gao et al. [27])</text><text x="363" y="666">NC-ECR (Zhang et al. [59])</text></g>
</g>

<!-- ================= SLIP PLOT ================= -->
<g font-family="'Liberation Serif',serif" fill="#222">
<g stroke="#bbb" stroke-width=".8" stroke-dasharray="1.5,2">
<line x1="710.5" y1="397" x2="710.5" y2="702"/><line x1="806" y1="397" x2="806" y2="702"/><line x1="901.5" y1="397" x2="901.5" y2="702"/>
<line x1="615" y1="457.4" x2="997" y2="457.4"/><line x1="615" y1="518.3" x2="997" y2="518.3"/><line x1="615" y1="579.2" x2="997" y2="579.2"/><line x1="615" y1="640.1" x2="997" y2="640.1"/>
</g>
<g transform="translate(565,385) scale(0.33333)">
<path d="M150,948 C154,720 160,450 170,300 C178,200 188,130 200,95 L212,68 L222,82 L240,92 L255,80 L290,72 L415,78 L440,110 L550,240 L640,320 L760,440 L810,470 L870,510 L1000,640 L1150,785 L1292,785" fill="none" stroke="#d42020" stroke-width="5"/>
<path d="M225,75 L260,52 L300,44 L320,48 L345,95 L372,170 L400,232 L520,340 L640,430 L800,540 L880,592 L1020,730 L1100,760 L1292,760" fill="none" stroke="#d42020" stroke-width="5" stroke-dasharray="30,18"/>
<g>
<use href="#sq" x="157" y="700"/><use href="#sq" x="158" y="722"/><use href="#sq" x="162" y="760"/><use href="#sq" x="168" y="785"/><use href="#sq" x="178" y="795"/><use href="#sq" x="192" y="802"/><use href="#sq" x="207" y="812"/><use href="#sq" x="240" y="825"/><use href="#sq" x="255" y="838"/><use href="#sq" x="285" y="848"/><use href="#sq" x="308" y="858"/><use href="#sq" x="362" y="862"/><use href="#sq" x="415" y="868"/><use href="#sq" x="480" y="868"/><use href="#sq" x="507" y="878"/><use href="#sq" x="573" y="878"/>
<use href="#ci" x="155" y="470"/><use href="#ci" x="158" y="400"/><use href="#ci" x="163" y="345"/><use href="#ci" x="170" y="330"/><use href="#ci" x="178" y="320"/><use href="#ci" x="182" y="360"/><use href="#ci" x="190" y="382"/><use href="#ci" x="200" y="405"/><use href="#ci" x="210" y="430"/><use href="#ci" x="222" y="455"/><use href="#ci" x="240" y="490"/><use href="#ci" x="247" y="530"/><use href="#ci" x="262" y="555"/><use href="#ci" x="287" y="585"/><use href="#ci" x="310" y="600"/><use href="#ci" x="327" y="618"/><use href="#ci" x="370" y="632"/><use href="#ci" x="395" y="640"/><use href="#ci" x="420" y="648"/><use href="#ci" x="432" y="652"/>
<use href="#tr" x="160" y="118"/><use href="#tr" x="167" y="128"/><use href="#tr" x="177" y="138"/><use href="#tr" x="197" y="215"/><use href="#tr" x="207" y="242"/><use href="#tr" x="210" y="300"/><use href="#tr" x="225" y="335"/><use href="#tr" x="235" y="355"/><use href="#tr" x="270" y="410"/><use href="#tr" x="285" y="430"/><use href="#tr" x="300" y="448"/><use href="#tr" x="312" y="460"/><use href="#tr" x="365" y="485"/><use href="#tr" x="375" y="500"/><use href="#tr" x="385" y="510"/><use href="#tr" x="395" y="520"/><use href="#tr" x="405" y="525"/><use href="#tr" x="490" y="530"/><use href="#tr" x="585" y="538"/><use href="#tr" x="610" y="553"/><use href="#tr" x="625" y="563"/><use href="#tr" x="655" y="575"/>
<use href="#st" x="158" y="145"/><use href="#st" x="163" y="175"/><use href="#st" x="165" y="230"/><use href="#st" x="170" y="275"/><use href="#st" x="178" y="318"/><use href="#st" x="182" y="350"/><use href="#st" x="186" y="380"/><use href="#st" x="192" y="400"/><use href="#st" x="205" y="432"/><use href="#st" x="215" y="465"/><use href="#st" x="225" y="500"/><use href="#st" x="237" y="540"/><use href="#st" x="265" y="570"/><use href="#st" x="275" y="605"/><use href="#st" x="287" y="628"/><use href="#st" x="300" y="648"/><use href="#st" x="320" y="660"/><use href="#st" x="335" y="662"/><use href="#st" x="360" y="678"/><use href="#st" x="405" y="682"/><use href="#st" x="490" y="690"/><use href="#st" x="502" y="700"/><use href="#st" x="525" y="710"/><use href="#st" x="545" y="722"/><use href="#st" x="565" y="735"/><use href="#st" x="720" y="737"/>
</g>
<!-- cubes -->
<g stroke="#333" stroke-width="3">
<polygon points="585,80 615,50 720,50 690,80" fill="#f0f0f0"/><polygon points="690,80 720,50 720,135 690,165" fill="#a8a8a8"/><rect x="585" y="80" width="105" height="85" fill="#dcdcdc"/>
<rect x="612" y="115" width="55" height="18" rx="4" fill="#555"/><rect x="620" y="112" width="45" height="8" rx="3" fill="#888"/>
<polygon points="720,615 750,585 850,585 820,615" fill="#f0f0f0"/><polygon points="820,615 850,585 850,680 820,710" fill="#a8a8a8"/><rect x="720" y="615" width="100" height="95" fill="#dcdcdc"/>
<circle cx="765" cy="665" r="16" fill="#666"/><circle cx="770" cy="660" r="10" fill="#888" stroke="none"/>
<polygon points="720,825 750,795 855,795 825,825" fill="#f0f0f0"/><polygon points="825,825 855,795 855,890 825,920" fill="#a8a8a8"/><rect x="720" y="825" width="105" height="95" fill="#dcdcdc"/>
<rect x="748" y="868" width="45" height="20" rx="4" fill="#555"/><rect x="755" y="864" width="38" height="9" rx="3" fill="#888"/>
</g>
<g stroke-width="5" fill="none">
<path d="M610,180 L565,255" stroke="#c41a1a" marker-end="url(#ahr)"/>
<path d="M610,180 L528,330" stroke="#c41a1a" marker-end="url(#ahr)"/>
<path d="M718,640 L665,590" stroke="#888" marker-end="url(#ahg)"/>
<path d="M720,876 L585,878" stroke="#222" marker-end="url(#ah)"/>
<path d="M720,868 L425,652" stroke="#222" marker-end="url(#ah)"/>
<path d="M720,862 L595,745" stroke="#222" marker-end="url(#ah)"/>
</g>
</g>
<rect x="615" y="397" width="382" height="305" fill="none" stroke="#333" stroke-width="1.3"/>
<line x1="997" y1="397" x2="997" y2="702" stroke="#c41a1a" stroke-width="1.5"/>
<g stroke="#333" stroke-width="1"><path d="M615,457.4 h4 M615,518.3 h4 M615,579.2 h4 M615,640.1 h4 M710.5,702 v-4 M806,702 v-4 M901.5,702 v-4"/></g>
<g stroke="#c41a1a" stroke-width="1"><path d="M997,457.4 h-4 M997,518.3 h-4 M997,579.2 h-4 M997,640.1 h-4"/></g>
<g font-size="16" text-anchor="end"><text x="609" y="403">5</text><text x="609" y="463">4</text><text x="609" y="524">3</text><text x="609" y="585">2</text><text x="609" y="646">1</text><text x="609" y="707">0</text></g>
<g font-size="16" fill="#c41a1a"><text x="1003" y="403">20</text><text x="1003" y="463">16</text><text x="1003" y="524">12</text><text x="1003" y="585">8</text><text x="1003" y="646">4</text><text x="1003" y="707">0</text></g>
<g font-size="16" text-anchor="middle"><text x="615" y="723">0</text><text x="710.5" y="723">5</text><text x="806" y="723">10</text><text x="901.5" y="723">15</text><text x="997" y="723">20</text></g>
<text x="806" y="747" font-size="18" text-anchor="middle">slip (mm)</text>
<text transform="translate(588,550) rotate(-90)" font-size="16" text-anchor="middle">Bond stress-Smooth (MPa)</text>
<text transform="translate(1042,550) rotate(-90)" font-size="16" text-anchor="middle" fill="#c41a1a">Bond stress-Ribbed (MPa)</text>
<g transform="translate(565,385) scale(0.33333)">
<use href="#sq" x="790" y="75"/><use href="#ci" x="790" y="130"/><use href="#tr" x="790" y="185"/><use href="#st" x="790" y="240"/>
</g>
<line x1="810" y1="482" x2="840" y2="482" stroke="#d42020" stroke-width="1.7"/>
<line x1="810" y1="500" x2="840" y2="500" stroke="#d42020" stroke-width="1.7" stroke-dasharray="10,6"/>
<g font-size="13"><text x="845" y="414">SS-304L-4×20-S-1D [42]</text><text x="845" y="432">CS-4×20-S [42]</text><text x="845" y="451">CS-Φ10-S [42]</text><text x="845" y="469">SS-304L-5×16-S-1D [42]</text>
<text x="845" y="487" fill="#c41a1a">SS-5×23-30R-TC [43]</text><text x="845" y="505" fill="#c41a1a">CS-3.5×25-30R-TC [43]</text></g>
</g>

<!-- ================= PHOTOS ================= -->
<g>
<!-- 1 -->
<rect x="99" y="782" width="9" height="76" fill="url(#rebarBr)"/><rect x="99" y="800" width="9" height="58" fill="url(#rib)"/>
<rect x="58" y="858" width="85" height="89" rx="2" fill="url(#conc)"/>
<path d="M101,858 L99,872 L97,890 L93,905 L97,920 L96,935 L95,947" fill="none" stroke="#222" stroke-width="1.1"/>
<rect x="100" y="946" width="3" height="4" fill="#444"/>
<!-- 2 -->
<rect x="212" y="784" width="10" height="16" fill="url(#rebarLt)"/><rect x="212" y="800" width="10" height="58" fill="url(#rebarBr)"/><rect x="212" y="800" width="10" height="58" fill="url(#rib)"/>
<rect x="175" y="858" width="87" height="89" rx="2" fill="#c9c9c4"/>
<path d="M215,858 L218,870 L214,885 L218,900 L215,918 L217,932 L216,947" fill="none" stroke="#111" stroke-width="2.2"/>
<rect x="215" y="946" width="3" height="4" fill="#444"/>
<!-- 3 -->
<rect x="332" y="782" width="11" height="22" fill="url(#rebarLt)"/><rect x="332" y="804" width="11" height="54" fill="url(#rebarBr)"/><rect x="332" y="804" width="11" height="54" fill="url(#rib)"/>
<rect x="297" y="858" width="88" height="91" rx="2" fill="#c8c8c0"/>
<path d="M354,858 L358,872 L352,890 L349,905 L345,918 L341,932 L340,949" fill="none" stroke="#111" stroke-width="3.2"/>
<rect x="339" y="948" width="3" height="4" fill="#444"/>
<rect x="358" y="788" width="47" height="65" fill="#8c7e74" stroke="#b01a1a" stroke-width="1.5"/>
<rect x="359" y="789" width="45" height="25" fill="#6e625a"/><circle cx="368" cy="822" r="7" fill="#c2752a"/><path d="M380,789 L388,812" stroke="#ddd" stroke-width="2"/>
<ellipse cx="344" cy="917" rx="11" ry="15" fill="none" stroke="#c41a1a" stroke-width="1.2" stroke-dasharray="3,2"/>
<line x1="351" y1="908" x2="383" y2="853" stroke="#c41a1a" stroke-width="1.3"/>
<!-- 4 -->
<rect x="467" y="785" width="13" height="22" fill="url(#rebarLt)"/><rect x="467" y="807" width="13" height="51" fill="url(#rebarBr)"/><rect x="467" y="807" width="13" height="51" fill="url(#rib)"/>
<rect x="430" y="858" width="87" height="92" rx="2" fill="#d0d0cc"/>
<path d="M468,858 L466,872 L469,885 L463,898 L467,912 L464,925 L465,938 L463,949" fill="none" stroke="#222" stroke-width="1"/>
<rect x="463" y="948" width="3" height="4" fill="#444"/>
<rect x="493" y="788" width="47" height="65" fill="#9d8e88" stroke="#b01a1a" stroke-width="1.5"/>
<path d="M518,789 L525,850" stroke="#5a4e48" stroke-width="3"/><path d="M505,792 L520,835" stroke="#ccc" stroke-width="1.5"/>
<ellipse cx="467" cy="919" rx="11" ry="18" fill="none" stroke="#c41a1a" stroke-width="1.2" stroke-dasharray="3,2"/>
<line x1="474" y1="910" x2="516" y2="853" stroke="#c41a1a" stroke-width="1.3"/>
<!-- 5 -->
<rect x="612" y="788" width="10" height="20" fill="url(#rebarBr)"/><rect x="612" y="808" width="10" height="54" fill="url(#teal)"/><rect x="612" y="808" width="10" height="54" fill="url(#ribT)"/>
<rect x="575" y="862" width="83" height="86" rx="2" fill="#c3c3bf"/>
<path d="M616,862 L613,872 L609,880 L614,890 L610,900 L614,912 L611,925 L609,948" fill="none" stroke="#222" stroke-width="1"/>
<rect x="616" y="947" width="3" height="4" fill="#444"/>
<!-- 6 -->
<rect x="735" y="782" width="12" height="23" fill="url(#rebarBr)"/><rect x="735" y="805" width="12" height="57" fill="url(#tealD)"/><rect x="735" y="805" width="12" height="57" fill="url(#ribT)"/>
<rect x="697" y="862" width="83" height="86" rx="2" fill="#c9c9c4"/>
<path d="M708,862 L706,875 L709,890 L705,905 L708,920 L707,948" fill="none" stroke="#222" stroke-width="1"/>
<rect x="738" y="947" width="3" height="4" fill="#444"/>
<!-- 7 -->
<rect x="852" y="790" width="11" height="25" fill="url(#rebarBr)"/><rect x="852" y="815" width="11" height="43" fill="url(#teal)"/><rect x="852" y="815" width="11" height="43" fill="url(#ribT)"/>
<rect x="815" y="857" width="87" height="93" rx="2" fill="#bdbdb8"/>
<path d="M862,858 L864,872 L866,888 L868,905 L867,920 L871,935 L872,950" fill="none" stroke="#111" stroke-width="2.5"/>
<rect x="860" y="949" width="3" height="4" fill="#444"/>
<rect x="875" y="789" width="45" height="64" fill="#7dbb98" stroke="#b01a1a" stroke-width="1.5"/>
<path d="M878,810 Q895,800 918,795 M878,830 Q898,815 918,812" stroke="#4e8e6c" stroke-width="2" fill="none"/>
<ellipse cx="868" cy="925" rx="10" ry="15" fill="none" stroke="#c41a1a" stroke-width="1.2" stroke-dasharray="3,2"/>
<line x1="872" y1="905" x2="897" y2="853" stroke="#c41a1a" stroke-width="1.3"/>
<!-- 8 -->
<rect x="985" y="788" width="12" height="22" fill="url(#rebarBr)"/><rect x="985" y="810" width="12" height="50" fill="url(#teal)"/><rect x="985" y="810" width="12" height="50" fill="url(#ribT)"/>
<rect x="947" y="862" width="85" height="86" rx="2" fill="#cfcfcb"/>
<path d="M992,862 L990,880 L993,895 L989,912 L988,930 L986,945" fill="none" stroke="#222" stroke-width="1.1"/>
<rect x="990" y="947" width="3" height="4" fill="#444"/>
<rect x="1008" y="789" width="47" height="64" fill="#8fcdab" stroke="#b01a1a" stroke-width="1.5"/>
<path d="M1012,840 Q1030,820 1052,800" stroke="#5a9a7a" stroke-width="2" fill="none"/>
<ellipse cx="988" cy="925" rx="10" ry="15" fill="none" stroke="#c41a1a" stroke-width="1.2" stroke-dasharray="3,2"/>
<line x1="993" y1="910" x2="1030" y2="853" stroke="#c41a1a" stroke-width="1.3"/>
</g>

<!-- ================= SPECIMEN DIAGRAMS ================= -->
<g font-family="'Liberation Serif',serif" fill="#222">
<rect x="156" y="1150" width="97" height="93" fill="#e2e2e2" stroke="#888" stroke-width=".6"/>
<g fill="none" stroke="#777" stroke-width=".7">
<path d="M170,1156 l6,3 -6,3z"/><path d="M177,1203 l5,-5 3,6z"/><path d="M193,1181 l5,2 -4,3z"/><path d="M233,1176 l4,-4 1,5z"/><path d="M228,1218 l5,-2 -1,5z"/><path d="M176,1222 l5,-1 -3,4z"/>
</g>
<g fill="#666"><circle cx="240" cy="1160" r=".7"/><circle cx="230" cy="1190" r=".7"/><circle cx="165" cy="1213" r=".7"/><circle cx="240" cy="1205" r=".7"/><circle cx="190" cy="1235" r=".7"/></g>
<rect x="200" y="1092" width="9" height="188" fill="#3c3c3c"/><rect x="203" y="1092" width="3" height="188" fill="#9a9a9a"/>
<rect x="199" y="1150" width="11" height="18" fill="#ececec" opacity=".85"/><rect x="199" y="1228" width="11" height="15" fill="#ececec" opacity=".85"/>
<g stroke="#333" stroke-width=".8" fill="#8a8a8a">
<rect x="173" y="1165" width="62" height="4"/><rect x="173" y="1196" width="62" height="4"/><rect x="173" y="1226" width="62" height="4"/>
</g>
<line x1="176" y1="1169" x2="233" y2="1195" stroke="#333" stroke-width="5"/><line x1="176" y1="1169" x2="233" y2="1195" stroke="#8a8a8a" stroke-width="3.4"/>
<line x1="176" y1="1200" x2="233" y2="1226" stroke="#333" stroke-width="5"/><line x1="176" y1="1200" x2="233" y2="1226" stroke="#8a8a8a" stroke-width="3.4"/>
<rect x="156" y="1150" width="3.5" height="93" fill="#444"/><rect x="249.5" y="1150" width="3.5" height="93" fill="#444"/>
<line x1="257" y1="1166" x2="278" y2="1166" stroke="#222"/><line x1="257" y1="1230" x2="278" y2="1230" stroke="#222"/>
<line x1="267" y1="1168" x2="267" y2="1228" stroke="#222" marker-start="url(#ahs)" marker-end="url(#ahs)"/>
<text transform="translate(282,1199) rotate(90)" font-size="15" font-style="italic" text-anchor="middle">l</text>
<text x="143" y="1118" font-size="16">Rebar</text>
<path d="M143,1123 H197" stroke="#222" stroke-width="1" marker-end="url(#ah)"/>
<text x="40" y="1200" font-size="16">PVC pipe</text>
<path d="M110,1194 L196,1157" stroke="#222" stroke-width="1" marker-end="url(#ah)"/>
<path d="M110,1205 L194,1239" stroke="#222" stroke-width="1" marker-end="url(#ah)"/>
<!-- circle section -->
<circle cx="365" cy="1198" r="32" fill="#e6e6e6" stroke="#444" stroke-width="3.5"/>
<circle cx="367" cy="1197" r="21" fill="none" stroke="#555" stroke-width="3"/>
<circle cx="367" cy="1197" r="19" fill="none" stroke="#aaa" stroke-width="1"/>
<g fill="none" stroke="#777" stroke-width=".7"><path d="M364,1180 l5,2 -4,3z"/><path d="M398,1190 l-4,3 4,3z"/><path d="M367,1215 l6,-2 -2,4z"/><path d="M360,1232 l5,-1 -3,4z"/></g>
<circle cx="380" cy="1197" r="7" fill="#222"/><circle cx="378" cy="1195" r="3" fill="#555"/>
<text x="317" y="1129" font-size="16">FRP sheets</text>
<path d="M348,1135 L357,1148" stroke="#222" stroke-width="1" marker-end="url(#ah)"/>
<text x="438" y="1157" font-size="16">Stirrup</text>
<path d="M438,1160 L389,1177" stroke="#222" stroke-width="1" marker-end="url(#ah)"/>
<text x="450" y="1209" font-size="16">Concrete</text>
<path d="M448,1204 H402" stroke="#222" stroke-width="1" marker-end="url(#ah)"/>
<text x="430" y="1241" font-size="16"><tspan font-style="italic">d</tspan>=20 mm</text>
<path d="M430,1248 H410 L384,1203" fill="none" stroke="#222" stroke-width="1" marker-end="url(#ah)"/>
</g>

<!-- ================= PRESS ================= -->
<g font-family="'Liberation Serif',serif" fill="#222" stroke-linejoin="round">
<rect x="572" y="1068" width="31" height="145" fill="url(#coil)" stroke="#555" stroke-width=".8"/>
<rect x="820" y="1068" width="31" height="145" fill="url(#coil2)" stroke="#555" stroke-width=".8"/>
<rect x="565" y="1213" width="45" height="107" fill="url(#metH)" stroke="#555" stroke-width="1"/>
<rect x="813" y="1213" width="47" height="107" fill="url(#metH)" stroke="#555" stroke-width="1"/>
<g stroke="#444" stroke-width="1"><line x1="560" y1="1321" x2="616" y2="1321"/><line x1="808" y1="1321" x2="866" y2="1321"/>
<path d="M562,1327 l4,-6 M569,1327 l4,-6 M576,1327 l4,-6 M583,1327 l4,-6 M590,1327 l4,-6 M597,1327 l4,-6 M604,1327 l4,-6 M611,1327 l4,-6 M810,1327 l4,-6 M817,1327 l4,-6 M824,1327 l4,-6 M831,1327 l4,-6 M838,1327 l4,-6 M845,1327 l4,-6 M852,1327 l4,-6 M859,1327 l4,-6"/></g>
<rect x="575" y="1037" width="30" height="8" rx="2" fill="url(#metV)" stroke="#555" stroke-width=".8"/>
<rect x="820" y="1037" width="30" height="8" rx="2" fill="url(#metV)" stroke="#555" stroke-width=".8"/>
<rect x="568" y="1045" width="289" height="23" fill="url(#metV)" stroke="#555" stroke-width="1"/>
<rect x="631" y="1100" width="16" height="186" fill="url(#darkH)" stroke="#333" stroke-width=".8"/>
<rect x="778" y="1100" width="15" height="186" fill="url(#darkH)" stroke="#333" stroke-width=".8"/>
<rect x="707" y="1068" width="9" height="50" fill="#666"/>
<polygon points="695,1068 726,1068 721,1088 700,1088" fill="url(#metH)" stroke="#555" stroke-width=".8"/>
<rect x="702" y="1088" width="21" height="19" fill="url(#metH)" stroke="#555" stroke-width=".8"/>
<rect x="628" y="1117" width="170" height="18" fill="url(#metV)" stroke="#555" stroke-width="1"/>
<path d="M660,1135 Q712,1121 765,1135 Z" fill="#9a9a9a" stroke="#444" stroke-width=".8"/>
<rect x="655" y="1135" width="115" height="9" fill="#2a2a2a"/>
<rect x="683" y="1144" width="56" height="56" fill="#e4e4e4" stroke="#777" stroke-width=".8"/>
<g fill="none" stroke="#888" stroke-width=".6"><path d="M688,1150 l5,2 -4,3z"/><path d="M722,1154 l4,-3 1,5z"/><path d="M700,1172 l4,2 -3,3z"/><path d="M718,1180 l4,2 -3,3z"/><path d="M727,1186 l4,-3 1,5z"/><path d="M694,1193 l5,-1 -3,4z"/></g>
<rect x="709" y="1200" width="5" height="18" fill="#555"/>
<rect x="695" y="1210" width="34" height="4" fill="#ccc" stroke="#777" stroke-width=".6"/>
<rect x="693" y="1204" width="8" height="24" rx="1" fill="url(#blueH)" stroke="#3a7ab0" stroke-width=".7"/>
<rect x="724" y="1204" width="8" height="24" rx="1" fill="url(#blueH)" stroke="#3a7ab0" stroke-width=".7"/>
<path d="M697,1228 Q695,1236 688,1236 Q686,1238 687,1241 M728,1228 Q730,1236 737,1236 Q739,1238 738,1241" fill="none" stroke="#333" stroke-width=".8"/>
<rect x="623" y="1285" width="179" height="32" fill="url(#metV)" stroke="#555" stroke-width="1"/>
<g font-size="14">
<text x="731" y="1042">Reaction frame</text>
<text x="605" y="1095">Spherical hinge</text>
<text x="749" y="1095">Load cell</text>
<text x="695" y="1268">LVDT</text>
</g>
<g stroke="#222" stroke-width=".9" fill="none">
<path d="M729,1040 L698,1045" marker-end="url(#ah)"/><path d="M818,1040 L826,1042"/>
<path d="M666,1098 L712,1127" marker-end="url(#ah)"/>
<path d="M747,1094 L724,1102" marker-end="url(#ah)"/>
<path d="M710,1255 L695,1238" marker-end="url(#ah)"/><path d="M717,1255 L731,1238" marker-end="url(#ah)"/>
</g>
<!-- circle -->
<circle cx="957" cy="1183" r="48" fill="#e3e1e1" stroke="#333" stroke-width="2"/>
<path d="M957,1183 L921,1214 A48,48 0 0 0 993,1214 Z" fill="#b36a72"/>
<path d="M921,1214 A48,48 0 0 0 993,1214" fill="none" stroke="#c0141c" stroke-width="3"/>
<rect x="950" y="1131" width="14" height="4" fill="#f0c020"/><rect x="906" y="1176" width="4" height="14" fill="#f0c020"/><rect x="1005" y="1176" width="4" height="14" fill="#f0c020"/>
<circle cx="957" cy="1183" r="7.5" fill="#4a4a4a"/><circle cx="955" cy="1181" r="3" fill="#777"/>
<rect x="892" y="1255" width="143" height="34" rx="4" fill="#fff" stroke="#333" stroke-width="1.2"/>
<line x1="903" y1="1265" x2="920" y2="1265" stroke="#f0c020" stroke-width="3"/>
<line x1="903" y1="1280" x2="920" y2="1280" stroke="#c0141c" stroke-width="3"/>
<g font-size="13"><text x="928" y="1269">Strain gauge</text><text x="928" y="1284">Overlapping zone</text></g>
</g>
</svg>
</body></html>
